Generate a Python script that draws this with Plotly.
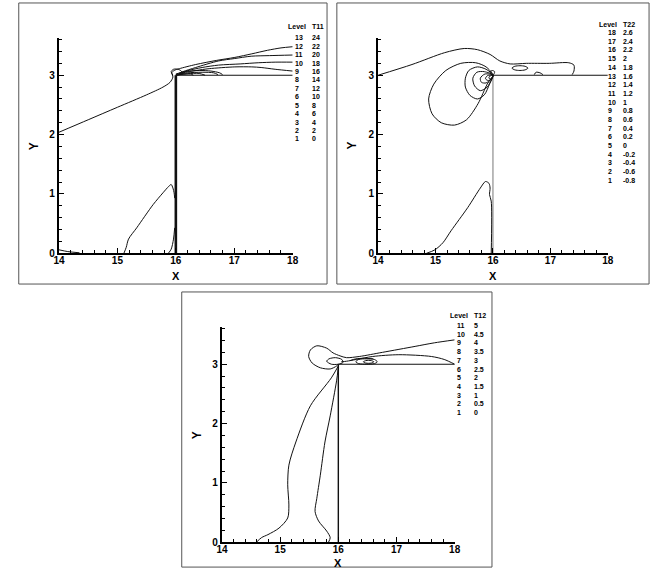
import plotly.graph_objects as go

W, H = 658, 582

# ---------------- data: legend tables ----------------
p1_levels = [13, 12, 11, 10, 9, 8, 7, 6, 5, 4, 3, 2, 1]
p1_values = ["24", "22", "20", "18", "16", "14", "12", "10", "8", "6", "4", "2", "0"]
p2_levels = [18, 17, 16, 15, 14, 13, 12, 11, 10, 9, 8, 7, 6, 5, 4, 3, 2, 1]
p2_values = ["2.6", "2.4", "2.2", "2", "1.8", "1.6", "1.4", "1.2", "1", "0.8", "0.6",
             "0.4", "0.2", "0", "-0.2", "-0.4", "-0.6", "-0.8"]
p3_levels = [11, 10, 9, 8, 7, 6, 5, 4, 3, 2, 1]
p3_values = ["5", "4.5", "4", "3.5", "3", "2.5", "2", "1.5", "1", "0.5", "0"]

x_ticks = [14, 15, 16, 17, 18]
y_ticks = [0, 1, 2, 3]

# geometry (step)
wall_x = [16, 16]
wall_y = [0, 3]
top_x = [16, 18]
top_y = [3, 3]

# ---------------- data: T11 contours (panel 1) ----------------
p1_main_x = [14.0, 14.5, 15.0, 15.5, 15.78, 15.9, 15.95, 15.93, 15.97, 16.06, 16.34, 16.7, 17.01, 17.3, 17.57, 17.8, 18.0]
p1_main_y = [2.04, 2.25, 2.46, 2.67, 2.80, 2.88, 2.97, 3.04, 3.08, 3.11, 3.18, 3.25, 3.30, 3.36, 3.42, 3.46, 3.48]
p1_l11_x = [16.05, 16.12, 16.34, 16.73, 17.0, 17.29, 17.6, 18.0]
p1_l11_y = [3.03, 3.06, 3.13, 3.24, 3.28, 3.32, 3.33, 3.34]
p1_l10_x = [16.05, 16.18, 16.45, 16.73, 17.1, 17.41, 17.7, 18.0]
p1_l10_y = [3.02, 3.07, 3.13, 3.17, 3.19, 3.21, 3.22, 3.22]
p1_l9_x = [16.05, 16.12, 16.35, 16.57, 17.01, 17.3, 17.46, 17.7, 18.0]
p1_l9_y = [3.01, 3.04, 3.08, 3.11, 3.14, 3.14, 3.13, 3.1, 3.07]
p1_d1_x = [16.0, 16.15, 16.4, 16.6, 16.75, 16.8]
p1_d1_y = [3.02, 3.06, 3.08, 3.07, 3.04, 3.01]
p1_d2_x = [16.0, 16.2, 16.45, 16.65, 16.72]
p1_d2_y = [3.01, 3.04, 3.05, 3.04, 3.01]
p1_d3_x = [16.0, 16.2, 16.4, 16.5]
p1_d3_y = [3.0, 3.025, 3.03, 3.0]
p1_d4_x = [16.0, 16.1, 16.25, 16.3]
p1_d4_y = [3.0, 3.015, 3.02, 3.0]
p1_loop_x = [15.95, 15.92, 15.96, 16.04, 16.1, 16.05, 16.0]
p1_loop_y = [3.0, 3.06, 3.1, 3.1, 3.06, 3.02, 3.0]
p1_low_x = [15.11, 15.15, 15.19, 15.33, 15.61, 15.78, 15.88, 15.92, 15.95, 15.97, 15.98]
p1_low_y = [0.0, 0.1, 0.24, 0.43, 0.82, 1.02, 1.13, 1.16, 1.1, 1.02, 0.93]
p1_in_x = [15.87, 15.92, 15.96, 15.98]
p1_in_y = [0.0, 0.07, 0.24, 0.43]
p1_bl_x = [14.0, 14.15, 14.35]
p1_bl_y = [0.06, 0.03, 0.01]

# ---------------- data: T22 contours (panel 2) ----------------
p2_out_x = [14.0, 14.59, 15.16, 15.5, 15.73, 15.95, 16.12, 16.3, 16.58, 16.98, 17.32, 17.41, 17.41, 17.38]
p2_out_y = [3.0, 3.18, 3.38, 3.45, 3.43, 3.35, 3.24, 3.19, 3.2, 3.2, 3.21, 3.17, 3.07, 3.01]
p2_ell_x = [16.33, 16.38, 16.47, 16.56, 16.61, 16.56, 16.47, 16.38, 16.33]
p2_ell_y = [3.12, 3.15, 3.16, 3.15, 3.12, 3.09, 3.08, 3.09, 3.12]
p2_bump_x = [16.72, 16.75, 16.82, 16.87]
p2_bump_y = [3.01, 3.05, 3.04, 3.01]
p2_la_x = [16.0, 15.88, 15.7, 15.44, 15.18, 14.97, 14.88, 14.94, 15.1, 15.33, 15.54, 15.74, 15.9, 16.0]
p2_la_y = [3.0, 3.14, 3.21, 3.2, 3.08, 2.85, 2.6, 2.35, 2.2, 2.16, 2.25, 2.52, 2.85, 3.0]
p2_lb_x = [16.0, 15.88, 15.73, 15.58, 15.52, 15.52, 15.6, 15.73, 15.85, 15.94, 16.0]
p2_lb_y = [3.0, 3.1, 3.14, 3.08, 2.95, 2.8, 2.66, 2.6, 2.67, 2.85, 3.0]
p2_lc_x = [16.0, 15.85, 15.72, 15.65, 15.68, 15.78, 15.9, 15.97, 16.0]
p2_lc_y = [3.0, 3.06, 3.05, 2.95, 2.82, 2.74, 2.8, 2.92, 3.0]
p2_ld_x = [16.0, 15.86, 15.78, 15.8, 15.88, 15.96, 16.0]
p2_ld_y = [3.0, 3.02, 2.95, 2.88, 2.87, 2.93, 3.0]
p2_le_x = [16.0, 15.9, 15.87, 15.92, 15.98, 16.0]
p2_le_y = [3.0, 2.99, 2.94, 2.91, 2.95, 3.0]
p2_lf_x = [16.0, 15.94, 15.93, 15.97, 16.0]
p2_lf_y = [3.0, 2.98, 2.95, 2.94, 3.0]
p2_lg_x = [16.0, 16.03, 15.98, 15.95, 16.0]
p2_lg_y = [3.0, 3.06, 3.08, 3.04, 3.0]
p2_low_x = [14.84, 14.99, 15.13, 15.27, 15.56, 15.78, 15.87, 15.93, 15.95, 15.94, 15.97, 15.97]
p2_low_y = [0.0, 0.06, 0.18, 0.38, 0.77, 1.1, 1.21, 1.18, 1.1, 0.99, 0.88, 0.0]

# ---------------- data: T12 contours (panel 3) ----------------
p3_out_x = [18.0, 17.65, 17.32, 16.76, 16.36, 16.14, 16.03, 15.91, 15.8, 15.63, 15.52, 15.49, 15.55, 15.69, 15.86, 15.97, 16.0]
p3_out_y = [3.41, 3.36, 3.3, 3.2, 3.13, 3.11, 3.14, 3.19, 3.27, 3.31, 3.24, 3.13, 3.02, 2.94, 2.92, 2.97, 3.0]
p3_sec_x = [18.0, 17.82, 17.6, 17.04, 16.59, 16.31, 16.14, 16.05]
p3_sec_y = [3.0, 3.08, 3.13, 3.16, 3.13, 3.08, 3.05, 3.04]
p3_cl_x = [15.8, 15.84, 15.95, 16.06, 16.08, 16.0, 15.88, 15.8]
p3_cl_y = [3.05, 3.09, 3.11, 3.08, 3.03, 3.0, 3.0, 3.05]
p3_e1_x = [16.3, 16.35, 16.48, 16.62, 16.67, 16.62, 16.48, 16.35, 16.3]
p3_e1_y = [3.04, 3.08, 3.09, 3.08, 3.04, 3.01, 3.0, 3.01, 3.04]
p3_e2_x = [16.43, 16.47, 16.52, 16.57, 16.61, 16.57, 16.52, 16.47, 16.43]
p3_e2_y = [3.04, 3.06, 3.065, 3.06, 3.04, 3.02, 3.015, 3.02, 3.04]
p3_d1_x = [16.2, 16.3, 16.45, 16.6]
p3_d1_y = [3.06, 3.09, 3.1, 3.09]
p3_left_x = [16.0, 15.88, 15.52, 15.27, 15.15, 15.13, 15.15, 15.13, 14.98, 14.79, 14.68, 14.59]
p3_left_y = [2.97, 2.77, 2.3, 1.69, 1.3, 0.97, 0.63, 0.41, 0.24, 0.13, 0.08, 0.0]
p3_right_x = [16.0, 15.97, 15.86, 15.77, 15.69, 15.63, 15.6, 15.66, 15.8, 15.86, 15.83]
p3_right_y = [2.95, 2.72, 2.13, 1.69, 1.13, 0.74, 0.52, 0.36, 0.19, 0.08, 0.0]

# ---------------- layout helpers (pixel geometry) ----------------
def fx(px):
    return px / W

def fy(py):
    return 1 - py / H

FONT = "Liberation Sans, Arial, sans-serif"
YMAX = 3.62

panels = [
    dict(xl=54, xr=292, yb=256, yt=38.8, frame=(13, 3, 327, 287), xt=279, yx=28),
    dict(xl=379, xr=613, yb=256, yt=38.8, frame=(337, 3, 655, 287), xt=279, yx=352),
    dict(xl=220, xr=457, yb=548, yt=330.8, frame=(179, 295, 495, 573), xt=569, yx=194),
]

fig = go.Figure()

def add_line(i, xs, ys, color="#111", width=1.0, shape="spline"):
    sfx = "" if i == 0 else str(i + 1)
    fig.add_trace(go.Scatter(
        x=xs, y=ys, mode="lines", xaxis="x" + sfx, yaxis="y" + sfx,
        line=dict(color=color, width=width, shape=shape, smoothing=0.8),
        hoverinfo="skip", showlegend=False))

# panel 1
add_line(0, wall_x, wall_y, width=2.6, shape="linear")
add_line(0, top_x, top_y, width=1.1, shape="linear")
for xs, ys in [(p1_main_x, p1_main_y), (p1_l11_x, p1_l11_y), (p1_l10_x, p1_l10_y),
               (p1_l9_x, p1_l9_y), (p1_d1_x, p1_d1_y), (p1_d2_x, p1_d2_y),
               (p1_d3_x, p1_d3_y), (p1_d4_x, p1_d4_y), (p1_loop_x, p1_loop_y),
               (p1_low_x, p1_low_y), (p1_in_x, p1_in_y), (p1_bl_x, p1_bl_y)]:
    add_line(0, xs, ys)

# panel 2
add_line(1, wall_x, wall_y, color="#777", width=1.0, shape="linear")
add_line(1, top_x, top_y, width=1.1, shape="linear")
for xs, ys in [(p2_out_x, p2_out_y), (p2_ell_x, p2_ell_y), (p2_bump_x, p2_bump_y),
               (p2_la_x, p2_la_y), (p2_lb_x, p2_lb_y), (p2_lc_x, p2_lc_y),
               (p2_ld_x, p2_ld_y), (p2_le_x, p2_le_y), (p2_lf_x, p2_lf_y),
               (p2_lg_x, p2_lg_y), (p2_low_x, p2_low_y)]:
    add_line(1, xs, ys)

# panel 3
add_line(2, wall_x, wall_y, width=1.4, shape="linear")
add_line(2, top_x, top_y, width=1.1, shape="linear")
for xs, ys in [(p3_out_x, p3_out_y), (p3_sec_x, p3_sec_y), (p3_cl_x, p3_cl_y),
               (p3_e1_x, p3_e1_y), (p3_e2_x, p3_e2_y), (p3_d1_x, p3_d1_y),
               (p3_left_x, p3_left_y), (p3_right_x, p3_right_y)]:
    add_line(2, xs, ys)

layout = dict(
    width=W, height=H, margin=dict(l=0, r=0, t=0, b=0),
    paper_bgcolor="white", plot_bgcolor="white", showlegend=False,
    font=dict(family=FONT, color="black"),
)

shapes = []
annotations = []
tickfont = dict(family=FONT, size=10, color="black", weight="bold")

for i, p in enumerate(panels):
    sfx = "" if i == 0 else str(i + 1)
    layout["xaxis" + sfx] = dict(
        domain=[fx(p["xl"]), fx(p["xr"])], range=[14, 18], anchor="y" + sfx,
        showgrid=False, zeroline=False, showline=True, linecolor="black", linewidth=2.2,
        tickmode="array", tickvals=x_ticks, ticktext=[str(v) for v in x_ticks],
        ticks="inside", ticklen=5, tickwidth=1.3, tickcolor="black", tickfont=tickfont,
        ticklabelstandoff=-3,
        minor=dict(dtick=0.2, tick0=14, ticks="inside", ticklen=3, tickwidth=1, tickcolor="black"),
        fixedrange=True,
    )
    layout["yaxis" + sfx] = dict(
        domain=[fy(p["yb"]), fy(p["yt"])], range=[0, YMAX], anchor="x" + sfx,
        showgrid=False, zeroline=False, showline=True, linecolor="black", linewidth=2.2,
        tickmode="array", tickvals=y_ticks, ticktext=[str(v) for v in y_ticks],
        ticks="inside", ticklen=5, tickwidth=1.3, tickcolor="black", tickfont=tickfont,
        minor=dict(dtick=0.2, tick0=0, ticks="inside", ticklen=3, tickwidth=1, tickcolor="black"),
        fixedrange=True,
    )
    l, t, r, b = p["frame"]
    shapes.append(dict(type="rect", xref="paper", yref="paper",
                       x0=fx(l), x1=fx(r), y0=fy(b), y1=fy(t),
                       line=dict(color="#555", width=1)))
    annotations.append(dict(text="X", xref="paper", yref="paper",
                            x=fx((p["xl"] + p["xr"]) / 2), y=fy(p["xt"]),
                            showarrow=False, font=dict(family=FONT, size=11, weight="bold"),
                            xanchor="center", yanchor="middle"))
    annotations.append(dict(text="Y", xref="paper", yref="paper",
                            x=fx(p["yx"]), y=fy((p["yb"] + p["yt"]) / 2),
                            showarrow=False, textangle=-90,
                            font=dict(family=FONT, size=12, weight="bold"),
                            xanchor="center", yanchor="middle"))

legend_specs = [
    dict(levels=p1_levels, values=p1_values, title="T11", nx=292, vx=310, hy=27, y0=38.3, dy=8.5),
    dict(levels=p2_levels, values=p2_values, title="T22", nx=611, vx=626, hy=25, y0=33, dy=8.76),
    dict(levels=p3_levels, values=p3_values, title="T12", nx=457, vx=475, hy=319, y0=329, dy=8.77),
]
lf = dict(family=FONT, size=7, color="black", weight="bold")
for s in legend_specs:
    annotations.append(dict(text="Level", xref="paper", yref="paper", x=fx(s["vx"] - 2), y=fy(s["hy"]),
                            showarrow=False, font=lf, xanchor="right", yanchor="middle"))
    annotations.append(dict(text=s["title"], xref="paper", yref="paper", x=fx(s["vx"]), y=fy(s["hy"]),
                            showarrow=False, font=lf, xanchor="left", yanchor="middle"))
    for k, (lv, val) in enumerate(zip(s["levels"], s["values"])):
        yy = fy(s["y0"] + k * s["dy"])
        annotations.append(dict(text=str(lv), xref="paper", yref="paper", x=fx(s["nx"]), y=yy,
                                showarrow=False, font=lf, xanchor="left", yanchor="middle"))
        annotations.append(dict(text=val, xref="paper", yref="paper", x=fx(s["vx"]), y=yy,
                                showarrow=False, font=lf, xanchor="left", yanchor="middle"))

layout["shapes"] = shapes
layout["annotations"] = annotations
fig.update_layout(**layout)
fig.write_html("out.html", config={"displayModeBar": False},
               post_script="document.body.style.margin='0px';document.body.style.overflow='hidden';")
